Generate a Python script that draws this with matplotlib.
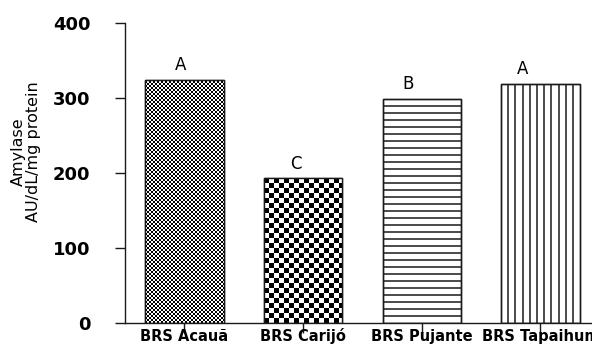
"""
    Amylase activity per cultivar

    Bar chart with black and white fill patterns, one per cultivar.
"""

import numpy as np
import matplotlib
matplotlib.use("Agg")
import matplotlib.pyplot as plt

varieties = ['BRS Acauã', 'BRS Carijó', 'BRS Pujante', 'BRS Tapaihum']
amylase = [324, 193, 299, 319]           # AU/dL/mg protein
letters = ['A', 'C', 'B', 'A']           # significance groups
patterns = ['fine_checker', 'checker', 'hlines', 'vlines']
y_ticks = [0, 100, 200, 300, 400]


def fill_pattern(ax, bar, kind: str, px_x: float, px_y: float) -> None:
    """ draw the fill pattern of one bar, clipped to the bar.
        px_x, px_y: size of one screen pixel in data units """
    x0, x1 = bar.get_x(), bar.get_x() + bar.get_width()
    h = bar.get_height()
    ink = '#1a1a1a'
    if kind in ('fine_checker', 'checker'):
        cell = 2 if kind == 'fine_checker' else 5
        xe = np.arange(x0, x1 + cell * px_x, cell * px_x)
        ye = np.arange(0, h + cell * px_y, cell * px_y)
        c = (np.add.outer(np.arange(len(ye) - 1), np.arange(len(xe) - 1)) % 2).astype(float)
        mesh = ax.pcolormesh(xe, ye, c, cmap='gray', vmin=0, vmax=1,
                             shading='flat', antialiased=False, zorder=2)
        mesh.set_clip_path(bar)
    elif kind == 'hlines':
        ys = np.arange(7 * px_y, h, 7 * px_y)
        lines = ax.hlines(ys, x0, x1, colors=ink, linewidth=1.1, zorder=2)
        lines.set_clip_path(bar)
    else:
        xs = np.arange(x0 + 7 * px_x, x1, 7.2 * px_x)
        lines = ax.vlines(xs, 0, h, colors=ink, linewidth=1.1, zorder=2)
        lines.set_clip_path(bar)


def main() -> None:
    fig = plt.figure(figsize=(5.92, 3.44), dpi=100)
    ax_w_px, ax_h_px = 4 * 118.7, 300
    ax = fig.add_axes([125 / 592, 21 / 344, ax_w_px / 592, ax_h_px / 344])

    x = np.arange(len(varieties))
    ax.set_xlim(-0.5, 3.5)
    ax.set_ylim(0, 400)
    bars = ax.bar(x, amylase, width=0.66, facecolor='white',
                  edgecolor='#1a1a1a', linewidth=1.0, zorder=1)
    edges = ax.bar(x, amylase, width=0.66, facecolor='none',
                   edgecolor='#1a1a1a', linewidth=1.0, zorder=3)

    px_x = 4.0 / ax_w_px
    px_y = 400.0 / ax_h_px
    for bar, kind in zip(bars, patterns):
        fill_pattern(ax, bar, kind, px_x, px_y)

    # significance letters
    dx = [-3, -5, -10, -13]
    for bar, letter, d in zip(bars, letters, dx):
        ax.annotate(letter, (bar.get_x() + bar.get_width() / 2, bar.get_height()),
                    xytext=(d, 4), textcoords='offset points',
                    ha='center', va='bottom', fontsize=12)

    ax.set_xticks(x)
    ax.set_xticklabels(varieties, fontsize=10.5, fontweight='bold')
    for lab in ax.get_xticklabels():
        lab.set_verticalalignment('baseline')
    ax.set_yticks(y_ticks)
    ax.set_yticklabels([str(v) for v in y_ticks], fontsize=13, fontweight='bold')
    ax.tick_params(axis='x', direction='out', length=7, width=1, pad=6, colors='#1a1a1a')
    ax.tick_params(axis='y', direction='out', length=7, width=1, pad=18, colors='#1a1a1a')
    ax.tick_params(labelcolor='black')

    for side in ['top', 'right']:
        ax.spines[side].set_visible(False)
    for side in ['left', 'bottom']:
        ax.spines[side].set_linewidth(1)
        ax.spines[side].set_color('#1a1a1a')

    fig.text(26 / 592, 1 - 152 / 344, 'Amylase\nAU/dL/mg protein', rotation=90,
             ha='center', va='center', multialignment='center',
             fontsize=11.5, linespacing=0.95)

    fig.savefig('out.png', dpi=100)


if __name__ == "__main__":
    main()
